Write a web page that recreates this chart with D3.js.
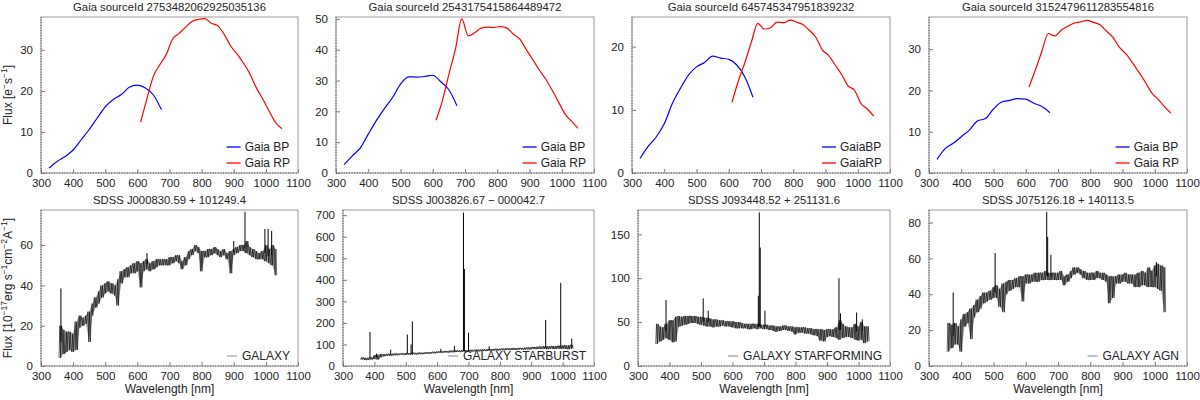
<!DOCTYPE html>
<html>
<head>
<meta charset="utf-8">
<script src="https://cdn.jsdelivr.net/npm/d3@7"></script>
<style>
  body { margin: 0; background: #fff; }
  svg text { font-family: "Liberation Sans", Arial, sans-serif; fill: #222; }
</style>
</head>
<body>
<svg id="chart" width="1200" height="400"></svg>
<script>
// ---- data ----
const gaiaIds = ["2753482062925035136", "2543175415864489472", "645745347951839232", "3152479611283554816"];
const bandNames = [["Gaia BP", "Gaia RP"], ["Gaia BP", "Gaia RP"], ["GaiaBP", "GaiaRP"], ["Gaia BP", "Gaia RP"]];
const sdssNames = ["SDSS J000830.59 + 101249.4", "SDSS J003826.67 \u2212 000042.7", "SDSS J093448.52 + 251131.6", "SDSS J075126.18 + 140113.5"];
const sdssClasses = ["GALAXY", "GALAXY STARBURST", "GALAXY STARFORMING", "GALAXY AGN"];

const xTicks = [300, 400, 500, 600, 700, 800, 900, 1000, 1100];

// Gaia XP sampled spectra (nm)
const bpWave = [325, 350, 375, 400, 425, 450, 475, 500, 525, 550, 575, 600, 625, 650, 675];
const rpWave = [610, 630, 650, 670, 690, 710, 730, 750, 770, 790, 810, 830, 850, 870, 890, 910, 930, 950, 970, 990, 1010, 1030, 1050];

const bpFlux1 = [1.2, 2.8, 4.0, 5.6, 8.1, 10.6, 13.4, 16.1, 17.9, 19.1, 20.9, 21.4, 20.7, 19.0, 15.4];
const rpFlux1 = [12.4, 18.2, 23.6, 26.4, 28.9, 32.7, 34.0, 35.5, 36.9, 37.4, 37.6, 36.5, 35.9, 33.8, 31.0, 29.0, 26.8, 24.2, 20.8, 18.1, 15.1, 12.3, 10.8];
const bpFlux2 = [2.7, 5.5, 8.1, 12.6, 17.0, 20.9, 24.4, 28.8, 31.2, 31.1, 31.3, 31.7, 29.6, 27.0, 21.8];
const rpFlux2 = [17.1, 23.5, 32.0, 40.0, 50.0, 44.5, 45.5, 47.0, 47.3, 47.2, 47.5, 47.0, 45.0, 43.4, 40.0, 36.8, 33.5, 30.5, 26.9, 23.0, 19.2, 16.8, 14.5];
const bpFlux3 = [2.3, 4.2, 5.7, 7.8, 11.0, 13.4, 15.5, 16.8, 17.5, 18.5, 18.2, 18.0, 17.1, 15.2, 12.0];
const rpFlux3 = [11.2, 14.6, 17.5, 20.7, 23.7, 22.8, 23.0, 23.9, 23.8, 24.2, 23.9, 23.5, 22.6, 21.5, 19.5, 18.6, 17.1, 15.6, 13.8, 13.1, 11.0, 10.1, 9.0];
const bpFlux4 = [3.3, 5.9, 7.2, 8.8, 10.4, 12.6, 13.2, 15.5, 17.2, 17.6, 18.0, 17.9, 16.9, 16.1, 14.6];
const rpFlux4 = [20.8, 25.0, 29.5, 33.8, 33.2, 34.6, 35.5, 36.3, 36.6, 37.0, 36.5, 35.9, 34.4, 32.9, 30.5, 28.9, 26.8, 24.5, 22.1, 19.5, 17.9, 16.1, 14.5];

const topYMax = [38, 50.6, 24.7, 37.8];
const topYTicks = [[0, 10, 20, 30], [0, 10, 20, 30, 40, 50], [0, 10, 20], [0, 10, 20, 30]];

// SDSS spectra: [low, high] flux of the noisy trace in 10 nm bins
const sdssWave = [360, 370, 380, 390, 400, 410, 420, 430, 440, 450, 460, 470, 480, 490, 500, 510, 520, 530, 540, 550,
  560, 570, 580, 590, 600, 610, 620, 630, 640, 650, 660, 670, 680, 690, 700, 710, 720, 730, 740, 750,
  760, 770, 780, 790, 800, 810, 820, 830, 840, 850, 860, 870, 880, 890, 900, 910, 920, 930, 940, 950,
  960, 970, 980, 990, 1000, 1010, 1020, 1030];

const specGalaxy = [[4,20],[6,18],[7,17],[8,17],[7,16],[8,22],[19,25],[20,24],[21,25],[12,27],
  [25,31],[29,34],[31,37],[34,40],[36,41],[37,42],[36,41],[35,40],[30,43],[41,47],
  [44,48],[44,49],[46,50],[46,51],[47,52],[39,51],[47,52],[48,53],[47,51],[48,52],
  [49,53],[50,53],[50,53],[50,53],[50,54],[51,54],[52,55],[51,55],[48,52],[50,54],
  [53,57],[55,58],[57,60],[56,59],[47,57],[54,57],[54,58],[55,58],[56,59],[55,58],
  [54,57],[55,58],[53,56],[46,57],[55,58],[56,59],[57,60],[57,60],[56,62],[55,59],
  [54,58],[53,57],[53,56],[53,57],[52,60],[51,58],[50,60],[45,58]];
const specStarburst = [[30,40],[28,38],[28,38],[30,40],[32,50],[30,52],[40,55],[45,55],[47,56],[48,57],
  [49,57],[50,58],[51,58],[52,59],[52,60],[53,60],[53,61],[54,61],[54,62],[55,62],
  [56,63],[57,64],[58,65],[59,66],[60,67],[61,68],[62,69],[63,70],[63,71],[64,71],
  [65,72],[65,72],[66,74],[66,74],[67,74],[67,75],[68,75],[68,76],[69,76],[70,77],
  [70,78],[71,79],[72,79],[72,80],[73,80],[73,81],[74,82],[74,82],[75,83],[75,83],
  [76,84],[76,84],[76,85],[77,86],[78,87],[79,88],[79,89],[80,90],[80,92],[78,92],
  [80,92],[79,93],[80,93],[80,94],[80,95],[79,96],[78,96],[80,98]];
const specStarforming = [[25,48],[28,45],[30,44],[32,48],[30,52],[27,52],[28,56],[45,57],[46,56],[47,57],
  [48,57],[49,57],[49,57],[48,56],[47,56],[46,55],[45,55],[45,54],[44,53],[45,53],
  [45,52],[46,52],[45,51],[45,51],[44,51],[43,50],[43,50],[43,49],[43,48],[42,48],
  [42,48],[43,48],[42,48],[43,47],[42,47],[42,47],[41,46],[40,46],[39,45],[40,45],
  [41,46],[41,46],[40,45],[39,45],[36,44],[38,44],[38,44],[37,44],[37,43],[36,43],
  [35,42],[34,42],[29,42],[28,41],[33,42],[34,42],[33,42],[32,44],[30,52],[32,48],
  [33,45],[33,44],[32,44],[30,48],[29,45],[30,50],[26,45],[28,45]];
const specAgn = [[8,24],[10,23],[12,24],[12,22],[8,26],[22,29],[24,30],[15,32],[27,34],[30,37],
  [32,39],[35,41],[36,41],[37,42],[38,44],[38,45],[33,43],[30,46],[40,47],[42,48],
  [43,48],[44,49],[44,50],[36,50],[46,51],[46,51],[47,51],[47,52],[47,52],[48,52],
  [48,53],[48,52],[48,52],[48,52],[48,52],[48,53],[45,50],[47,51],[49,53],[51,55],
  [52,55],[51,54],[49,53],[48,52],[48,52],[48,52],[49,53],[49,52],[48,52],[47,51],
  [35,50],[38,50],[46,50],[46,51],[47,51],[47,52],[46,51],[46,51],[44,51],[44,52],
  [45,53],[45,52],[44,55],[44,53],[44,56],[43,57],[42,56],[30,55]];

// emission / sky lines: [nm, peak flux]
const linesGalaxy = [[362, 38.5], [630, 56], [900, 62], [935, 76.5], [997, 68], [1007, 68], [1018, 67]];
const linesStarburst = [[386, 158], [407, 58], [452, 76], [505, 146], [517, 100], [521, 207], [612, 80], [655, 93],
  [684, 712], [687, 450], [700, 155], [766, 92], [946, 214], [994, 386], [1029, 127]];
const linesStarforming = [[389, 75], [507, 77], [523, 63], [682, 80], [685, 175], [688, 135], [703, 63], [938, 100],
  [943, 60], [994, 61], [1012, 53]];
const linesAgn = [[375, 41], [505, 63], [665, 86], [668, 72], [678, 62], [1005, 58]];

const botYMax = [77.4, 724, 177.7, 87];
const botYTicks = [[0, 20, 40, 60], [0, 100, 200, 300, 400, 500, 600, 700], [0, 50, 100, 150], [0, 20, 40, 60, 80]];

// ---- layout ----
const topLeft = [41, 336, 632, 929];
const botLeft = [41, 343, 638, 929];
const panelRight = [298, 594, 890, 1187];
const topRow = {top: 17, bottom: 173};
const botRow = {top: 210, bottom: 366};
const FONT = '"Liberation Sans", Arial, sans-serif';
const TICK_FS = 11.5;

const svg = d3.select('#chart');

function makeFrame(left, right, top, bottom, yMax, yTicks) {
    const x = d3.scaleLinear().domain([300, 1100]).range([left, right]);
    const y = d3.scaleLinear().domain([0, yMax]).range([bottom, top]);
    const g = svg.append('g');

    g.append('g')
        .attr('transform', `translate(0,${bottom})`)
        .call(d3.axisBottom(x).tickValues(xTicks).tickFormat(d3.format('d'))
            .tickSizeInner(-4).tickSizeOuter(0).tickPadding(6))
        .call(a => a.select('.domain').remove());
    g.append('g')
        .attr('transform', `translate(${left},0)`)
        .call(d3.axisLeft(y).tickValues(yTicks).tickFormat(d3.format('d'))
            .tickSizeInner(-4).tickSizeOuter(0).tickPadding(8))
        .call(a => a.select('.domain').remove());

    g.selectAll('g').attr('font-family', FONT).attr('font-size', TICK_FS);
    g.selectAll('.tick text').attr('fill', '#222');
    g.selectAll('.tick line').attr('stroke', '#777');

    g.append('rect')
        .attr('x', left).attr('y', top)
        .attr('width', right - left).attr('height', bottom - top)
        .attr('fill', 'none').attr('stroke', '#999').attr('stroke-width', 1);
    // left and bottom spines look dotted in the figure
    g.append('path')
        .attr('d', `M${left},${top}V${bottom}H${right}`)
        .attr('fill', 'none').attr('stroke', '#444').attr('stroke-width', 1)
        .attr('stroke-dasharray', '1,1.6');

    return {g, x, y};
}

function richText(sel, parts) {
    // parts: [text, isSuperscript]; superscripts raised by 5px
    let shift = 0;
    parts.forEach(([t, sup]) => {
        const dy = sup ? -5 - shift : -shift;
        shift = sup ? -5 : 0;
        sel.append('tspan')
            .attr('font-size', sup ? 8.5 : 12)
            .attr('dy', dy)
            .text(t);
    });
}

// ---- top row: Gaia BP/RP ----
const bpAll = [bpFlux1, bpFlux2, bpFlux3, bpFlux4];
const rpAll = [rpFlux1, rpFlux2, rpFlux3, rpFlux4];

for (let i = 0; i < 4; i++) {
    const left = topLeft[i], right = panelRight[i];
    const {g, x, y} = makeFrame(left, right, topRow.top, topRow.bottom, topYMax[i], topYTicks[i]);

    const line = d3.line().x(d => x(d[0])).y(d => y(d[1])).curve(d3.curveMonotoneX);
    g.append('path')
        .attr('d', line(d3.zip(bpWave, bpAll[i])))
        .attr('fill', 'none').attr('stroke', '#0000ff').attr('stroke-width', 1.2);
    g.append('path')
        .attr('d', line(d3.zip(rpWave, rpAll[i])))
        .attr('fill', 'none').attr('stroke', '#ff0000').attr('stroke-width', 1.2);

    g.append('text')
        .attr('x', (left + right) / 2).attr('y', topRow.top - 6)
        .attr('text-anchor', 'middle').attr('font-size', 11.3)
        .text('Gaia sourceId ' + gaiaIds[i]);

    // legend, lower right, no frame
    const labels = bandNames[i];
    const colors = ['#0000ff', '#ff0000'];
    const texts = labels.map((t, k) => g.append('text')
        .attr('y', topRow.bottom - 26 + k * 16).attr('dy', '0.35em')
        .attr('font-size', 12).text(t));
    const w = d3.max(texts, t => t.node().getComputedTextLength());
    const tx = right - 8 - w;
    texts.forEach((t, k) => {
        t.attr('x', tx);
        const ly = topRow.bottom - 26 + k * 16;
        g.append('line')
            .attr('x1', tx - 18).attr('x2', tx - 4)
            .attr('y1', ly).attr('y2', ly)
            .attr('stroke', colors[k]).attr('stroke-width', 1.3);
    });
}

// ---- bottom row: SDSS spectra ----
const specAll = [specGalaxy, specStarburst, specStarforming, specAgn];
const linesAll = [linesGalaxy, linesStarburst, linesStarforming, linesAgn];
const zig = [-3.75, -1.25, 1.25, 3.75];

for (let i = 0; i < 4; i++) {
    const left = botLeft[i], right = panelRight[i];
    const {g, x, y} = makeFrame(left, right, botRow.top, botRow.bottom, botYMax[i], botYTicks[i]);

    const spec = d3.zip(sdssWave, specAll[i]);

    // noise envelope as a soft band
    const band = d3.area()
        .x(d => x(d[0]))
        .y0(d => y(d[1][0]))
        .y1(d => y(d[1][1]));
    g.append('path')
        .attr('d', band(spec))
        .attr('fill', '#555').attr('fill-opacity', 0.55);

    // zig-zag trace on top of it for the ragged look
    const pts = [];
    spec.forEach(([w, [lo, hi]], k) => {
        zig.forEach((o, j) => pts.push([w + o, (j + k) % 2 === 0 ? lo : hi]));
    });
    const line = d3.line().x(d => x(d[0])).y(d => y(d[1]));
    g.append('path')
        .attr('d', line(pts))
        .attr('fill', 'none').attr('stroke', '#000').attr('stroke-width', 0.6)
        .attr('stroke-linejoin', 'bevel');

    // emission / sky lines as spikes rising from the local trace
    g.selectAll(null)
        .data(linesAll[i])
        .enter()
        .append('line')
        .attr('x1', d => x(d[0])).attr('x2', d => x(d[0]))
        .attr('y1', d => {
            const k = d3.minIndex(sdssWave, w => Math.abs(w - d[0]));
            return y((specAll[i][k][0] + specAll[i][k][1]) / 2);
        })
        .attr('y2', d => y(d[1]))
        .attr('stroke', '#000').attr('stroke-width', 1);

    g.append('text')
        .attr('x', (left + right) / 2).attr('y', botRow.top - 6)
        .attr('text-anchor', 'middle').attr('font-size', 11.3)
        .text(sdssNames[i]);

    g.append('text')
        .attr('x', (left + right) / 2).attr('y', 393)
        .attr('text-anchor', 'middle').attr('font-size', 12)
        .text('Wavelength [nm]');

    // legend
    const ly = botRow.bottom - 10;
    const t = g.append('text')
        .attr('y', ly).attr('dy', '0.35em')
        .attr('font-size', 12).text(sdssClasses[i]);
    const tw = t.node().getComputedTextLength();
    const tx = right - 8 - tw;
    t.attr('x', tx);
    g.append('line')
        .attr('x1', tx - 15).attr('x2', tx - 5)
        .attr('y1', ly).attr('y2', ly)
        .attr('stroke', '#999').attr('stroke-width', 1.2);
}

// ---- y axis titles ----
const yTop = svg.append('text')
    .attr('transform', `translate(12,${(topRow.top + topRow.bottom) / 2}) rotate(-90)`)
    .attr('text-anchor', 'middle').attr('font-size', 12);
richText(yTop, [['Flux [e', false], ['\u2212', true], ['s', false], ['\u22121', true], [']', false]]);

const yBot = svg.append('text')
    .attr('transform', `translate(12,${(botRow.top + botRow.bottom) / 2}) rotate(-90)`)
    .attr('text-anchor', 'middle').attr('font-size', 12);
richText(yBot, [['Flux [10', false], ['\u221217', true], ['erg s', false], ['\u22121', true], ['cm', false],
    ['\u22122', true], ['A', false], ['\u22121', true], [']', false]]);
</script>
</body>
</html>
